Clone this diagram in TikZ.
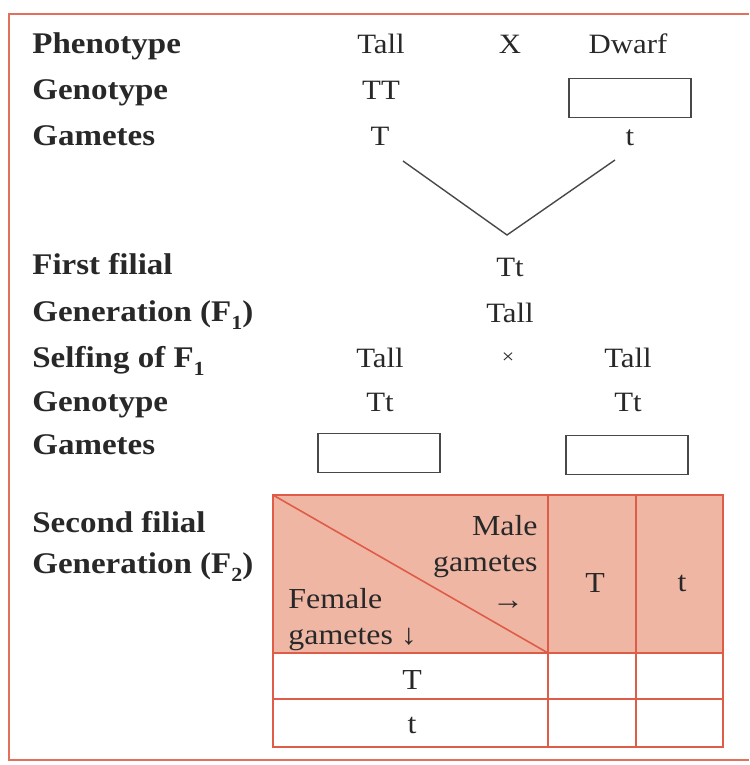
\documentclass[tikz,border=0pt]{standalone}
\usepackage{fontspec}
\setmainfont[FakeStretch=1.1]{Liberation Serif}
\usetikzlibrary{positioning}
\definecolor{frameRed}{RGB}{226,112,92}
\definecolor{gridRed}{RGB}{222,92,72}
\definecolor{headFill}{RGB}{240,182,164}
\definecolor{ink}{RGB}{40,40,40}
\newcommand{\fsub}[1]{\raisebox{-0.6ex}{\fontsize{10}{10}\selectfont #1}}

\begin{document}
\begin{tikzpicture}[
    x=0.5pt, y=-0.5pt,
    font=\fontsize{14}{16}\selectfont, text=ink,
    lbl/.style={anchor=base west, inner sep=0pt, font=\fontsize{15}{17}\selectfont\bfseries},
    val/.style={anchor=base},
    gbox/.style={draw=ink!85, line width=0.6pt, minimum width=61pt, minimum height=19.5pt, inner sep=0pt},
    grid/.style={draw=gridRed, line width=0.8pt},
    cell/.style={inner sep=0pt, font=\fontsize{14.5}{17}\selectfont},
]
\useasboundingbox (0,0) rectangle (749,765);

% Outer frame
\draw[frameRed, line width=1pt] (749,14) -- (9,14) -- (9,760) -- (749,760);

% Parents
\node[lbl] (phen) at (32,54) {Phenotype};
\node[val] (pTall) at (381,54) {Tall};
\node[val] (pCross) at (510,54) {X};
\node[val] (pDwarf) at (628,54) {Dwarf};

\node[lbl] (geno) at (32,100) {Genotype};
\node[val] (gTT) at (381,100) {TT};
\node[gbox] (gDwarf) at (630,98) {};

\node[lbl] (gam) at (32,146) {Gametes};
\node[val] (gamT) at (380,146) {T};
\node[val] (gamt) at (630,146) {t};

% Fusion of gametes
\coordinate (vl) at (403,161);
\coordinate (vtip) at (507,235);
\coordinate (vr) at (615,160);
\draw[ink!85, line width=0.7pt] (vl) -- (vtip) -- (vr);

% F1
\node[lbl] (first) at (32,274) {First filial};
\node[val] (fTt) at (510,276) {Tt};
\node[lbl] (gen1) at (32,321) {Generation (F\fsub{1})};
\node[val] (fTall) at (510,322) {Tall};

% Selfing
\node[lbl] (self) at (32,367) {Selfing of F\fsub{1}};
\node[val] (sTallL) at (380,367) {Tall};
\node[val] (sCross) at (508,363) {\fontsize{10}{10}\selectfont ×};
\node[val] (sTallR) at (628,367) {Tall};

\node[lbl] (geno2) at (32,411) {Genotype};
\node[val] (sTtL) at (380,411) {Tt};
\node[val] (sTtR) at (628,411) {Tt};

\node[lbl] (gam2) at (32,454) {Gametes};
\node[gbox] (boxL) at (379,453) {};
\node[gbox] (boxR) at (627,455) {};

% F2 checkerboard
\node[lbl] (second) at (32,532) {Second filial};
\node[lbl] (gen2) at (32,573) {Generation (F\fsub{2})};

\fill[headFill] (273,495) rectangle (723,653);
\draw[grid] (273,495) rectangle (723,747);
\draw[grid] (273,653) -- (723,653);
\draw[grid] (273,699) -- (723,699);
\draw[grid] (548,495) -- (548,747);
\draw[grid] (636,495) -- (636,747);
\draw[grid] (273,495) -- (548,653);

\node[cell, anchor=base east] (male) at (538,535) {Male};
\node[cell, anchor=base east] (maleg) at (538,571) {gametes};
\node[cell, anchor=base] (maleArr) at (508,609) {→};
\node[cell, anchor=base west] (fem) at (288,608) {Female};
\node[cell, anchor=base west] (femg) at (288,644) {gametes ↓};

\node[cell] (colT) at (595,583) {T};
\node[cell] (colt) at (682,583) {t};
\node[cell] (rowT) at (412,680) {T};
\node[cell] (rowt) at (412,725) {t};

\end{tikzpicture}
\end{document}
